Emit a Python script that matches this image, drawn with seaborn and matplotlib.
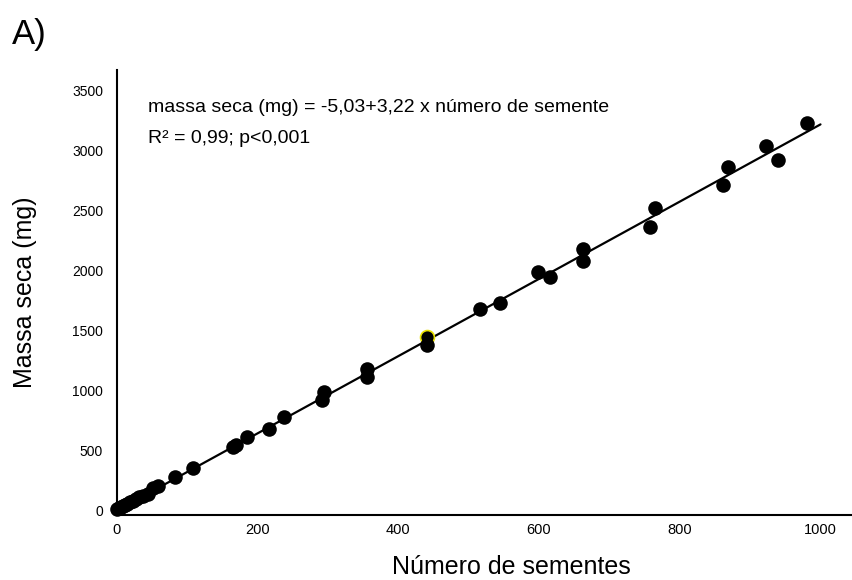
import matplotlib
matplotlib.use('Agg')
import matplotlib.pyplot as plt
import seaborn as sns
import numpy as np
import pandas as pd

# Data
n_seeds = [0, 3, 6, 9, 12, 15, 19, 23, 27, 32, 37, 44, 51, 58, 83, 108,
           165, 170, 185, 216, 238, 292, 294, 356, 356, 441, 516, 545,
           599, 616, 663, 663, 757, 765, 862, 869, 922, 939, 981]
dry_mass = [10, 15, 25, 35, 45, 50, 65, 75, 90, 105, 115, 133, 183, 200, 275, 350,
            525, 545, 608, 675, 775, 917, 983, 1108, 1175, 1375, 1675, 1725,
            1983, 1942, 2175, 2075, 2358, 2517, 2708, 2858, 3033, 2917, 3225]

# one point drawn with a yellow edge in the original
hl_seeds = [441]
hl_mass = [1442]

# regression from the annotation
intercept = -5.03
slope = 3.22
fit_x = [0, 1000]

df = pd.DataFrame({'x': n_seeds, 'y': dry_mass})
df_hl = pd.DataFrame({'x': hl_seeds, 'y': hl_mass})
df_fit = pd.DataFrame({'x': fit_x, 'y': [intercept + slope * v for v in fit_x]})

sns.set_style('white')
plt.rcParams['font.family'] = ['Liberation Sans', 'DejaVu Sans']
plt.rcParams['text.color'] = 'black'
plt.rcParams['axes.labelcolor'] = 'black'
plt.rcParams['xtick.color'] = 'black'
plt.rcParams['ytick.color'] = 'black'

fig = plt.figure(figsize=(8.53, 5.8), dpi=100)
ax = fig.add_axes([0.137, 0.112, 0.862, 0.767])

sns.lineplot(data=df_fit, x='x', y='y', color='black', linewidth=1.6, ax=ax, zorder=2)
sns.scatterplot(data=df_hl, x='x', y='y', color='black', edgecolor='#e8e000',
                linewidth=1.2, s=100, ax=ax, zorder=3, clip_on=False)
sns.scatterplot(data=df, x='x', y='y', color='black', edgecolor='black',
                linewidth=0, s=110, ax=ax, zorder=4, clip_on=False)

ax.set_xlim(0, 1045)
ax.set_ylim(-42, 3667)
ax.set_xticks([0, 200, 400, 600, 800, 1000])
ax.set_yticks([0, 500, 1000, 1500, 2000, 2500, 3000, 3500])
ax.tick_params(axis='x', length=0, pad=6, labelsize=10.5)
ax.tick_params(axis='y', length=0, pad=10, labelsize=10)

for side in ['top', 'right']:
    ax.spines[side].set_visible(False)
for side in ['left', 'bottom']:
    ax.spines[side].set_linewidth(1.5)
    ax.spines[side].set_color('black')

ax.set_xlabel('Número de sementes', fontsize=18)
ax.set_ylabel('Massa seca (mg)', fontsize=18)
ax.xaxis.set_label_coords(0.536, -0.09)
ax.yaxis.set_label_coords(-0.109, 0.5)

ax.text(0.042, 0.917, 'massa seca (mg) = -5,03+3,22 x número de semente',
        transform=ax.transAxes, fontsize=14, va='center', ha='left')
ax.text(0.042, 0.847, 'R² = 0,99; p<0,001',
        transform=ax.transAxes, fontsize=14, va='center', ha='left')

fig.text(0.014, 0.941, 'A)', fontsize=25, va='center', ha='left')

fig.savefig('out.png', dpi=100)
